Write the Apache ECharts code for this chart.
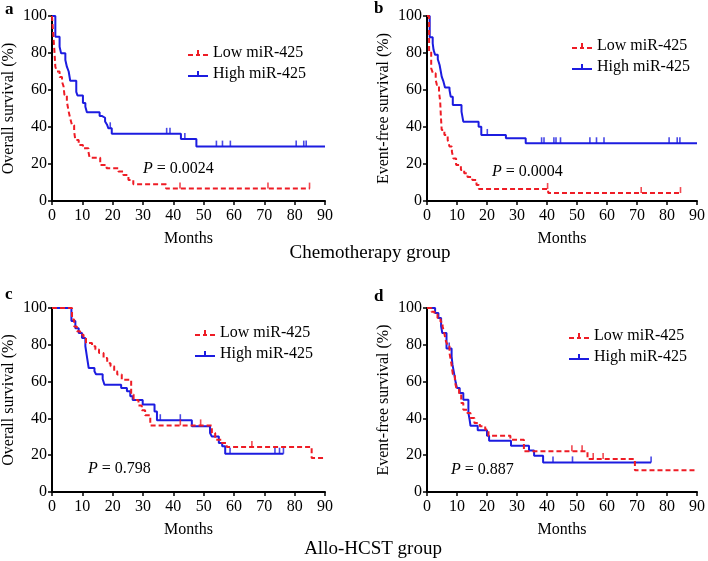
<!DOCTYPE html>
<html>
<head>
<meta charset="utf-8">
<script src="https://cdn.jsdelivr.net/npm/echarts@6/dist/echarts.min.js"></script>
<style>html,body{margin:0;padding:0;background:#fff}#c{width:708px;height:561px}</style>
</head>
<body>
<div id="c"></div>
<script>
// ---- data (months, survival %) ----
const seriesNames = ['Low miR-425', 'High miR-425'];
const panelLetters = ['a', 'b', 'c', 'd'];
const yTitles = ['Overall survival (%)', 'Event-free survival (%)', 'Overall survival (%)', 'Event-free survival (%)'];
const xTitle = 'Months';
const groupTitles = ['Chemotherapy group', 'Allo-HCST group'];
const pValues = ['0.0024', '0.0004', '0.798', '0.887'];

// Panel a: chemotherapy, overall survival
const lowA = [[0,100],[0.5,88],[0.8,81],[1.1,72.6],[1.6,70],[2.5,67],[3.3,64.5],[3.8,62],[4.1,57.3],[4.9,53.7],[5.5,48.3],[6,44.7],[6.6,41],[7.3,37.5],[7.7,33],[8.8,30.3],[10.2,28.5],[12,26.7],[12.4,23.4],[15.9,19.5],[18,17.7],[21.9,16],[23.5,14],[25.2,11.4],[26.8,9],[37.6,6.7],[85,6.7]];
const lowACens = [[42.2,6.7],[71.2,6.7],[84.9,6.7]];
const highA = [[0,100],[1.1,88.8],[2.5,83.4],[3,79.8],[4.4,76.2],[4.9,72.6],[5.5,70],[6,65],[8,59],[8.4,57],[10.2,53],[11,51],[11.5,48],[15.7,46],[16.4,45],[17.5,43],[18.1,41.4],[18.6,39.3],[19.7,36.3],[42.5,33.5],[47.6,29.4],[90,29.4]];
const highACens = [[19.2,39.3],[37.8,36.3],[38.9,36.3],[43.8,33.5],[54.2,29.4],[56.2,29.4],[58.8,29.4],[80.5,29.4],[83,29.4],[83.8,29.4]];

// Panel b: chemotherapy, event-free survival
const lowB = [[0,100],[0.7,80.7],[1.4,71.7],[2,69],[2.9,65.4],[3.3,62.7],[4,59],[4.4,53.7],[4.6,46.5],[4.9,38.4],[5.8,35.7],[6.9,33],[7.5,29.4],[8.3,26.7],[8.8,23],[9.7,19.5],[11.3,16.8],[12.4,15],[13.5,13],[15.1,11.4],[16.5,8.6],[17.3,6.5],[40.4,4.3],[84.5,4.3]];
const lowBCens = [[40.2,6.5],[71.4,4.3],[84.5,4.3]];
const highB = [[0,100],[0.9,88.5],[1.9,85.2],[2.2,81.6],[2.7,79],[3.6,76.6],[4.2,73.5],[4.6,70],[4.9,67.2],[5.5,64.5],[6,61.4],[7.5,60],[7.9,56.4],[8.6,51.9],[11.5,48.3],[12.1,42.9],[17.2,40.2],[18.1,35.7],[26.3,33.9],[32.9,31.2],[90,31.2]];
const highBCens = [[20.1,35.7],[38.2,31.2],[39,31.2],[42.3,31.2],[43,31.2],[44.5,31.2],[54.3,31.2],[56.5,31.2],[59,31.2],[80.7,31.2],[83.4,31.2],[84.3,31.2]];

// Panel c: allo-HCST, overall survival
const lowC = [[0,100],[6.6,93.7],[7.3,90],[8.2,87.3],[9.3,85.5],[10.4,83.7],[11.2,81],[13.2,79.2],[14.3,77.4],[15.5,75.5],[17,72.8],[18.2,70],[19.3,68.3],[20.5,65.6],[21.5,63.8],[23,61],[26.1,53],[26.9,50],[28.5,47],[29.6,44.4],[30.7,41.7],[32.4,36.2],[52.7,32],[53.8,28.4],[56,26.6],[57.6,24.5],[85.6,18.5],[90,18.5]];
const lowCCens = [[42.3,36.2],[49,36.2],[65.9,24.5]];
const highC = [[0,100],[6.4,93],[7.7,89],[8.8,86.4],[9.9,83.7],[11,79.2],[11.5,73.7],[12.1,67.4],[14,65.6],[14.5,64],[16.7,61.4],[17.3,58.3],[22.8,56.5],[24.7,54.7],[25.8,52],[26.6,50],[29.9,47.5],[33.8,43.8],[34.6,39],[46.1,35.7],[52.1,32],[52.7,30.2],[55,26.6],[56.1,24.8],[57.1,20.8],[76.3,20.8]];
const highCCens = [[35.7,39],[42.3,39],[58.7,20.8],[73.5,20.8],[75,20.8],[76.3,20.8]];

// Panel d: allo-HCST, event-free survival
const lowD = [[0,100],[1.5,98],[2.5,96.5],[3.5,94.5],[4.5,92.5],[5.2,90],[5.8,86],[6.3,82],[6.8,80],[7.5,75.5],[8.1,70],[8.6,64],[9.3,60],[9.9,55.6],[10.7,53],[11.4,48.4],[12.1,44.7],[13.4,42.9],[14.5,40.2],[15.8,37.5],[17.6,35.7],[19.4,33.9],[20.5,30.6],[27.8,28.4],[32.3,22.1],[53.5,17.9],[69.3,11.8],[90,11.8]];
const lowDCens = [[48.3,22.1],[51.7,22.1],[55.4,17.9],[58.7,17.9]];
const highD = [[0,100],[2.7,97.3],[3.8,94.6],[4.7,90],[5.1,86.4],[6.5,78],[8.2,73.7],[8.5,69.2],[9.1,63.8],[9.6,59.2],[10,56.5],[10.9,53.8],[12.1,50.2],[13.8,43],[14.2,39.3],[14.5,36],[16.9,33.5],[20,30.6],[20.7,27.9],[28,25.2],[34,22.6],[35.7,19.7],[38.7,16.1],[74.7,16.1]];
const highDCens = [[7.4,78],[42,16.1],[48.5,16.1],[74.7,16.1]];

const lowCurves = [lowA, lowB, lowC, lowD];
const lowCens = [lowACens, lowBCens, lowCCens, lowDCens];
const highCurves = [highA, highB, highC, highD];
const highCens = [highACens, highBCens, highCCens, highDCens];

// ---- layout / style ----
const FONT = 'Liberation Serif';
const RED = '#ee1c25';
const BLUE = '#1c1ce0';
const grids = [
  {left: 52, top: 16, width: 273, height: 185},
  {left: 427, top: 16, width: 274, height: 185},
  {left: 52, top: 308, width: 273, height: 184},
  {left: 427, top: 308, width: 274, height: 184}
];
const legendPos = [{left: 183, top: 40}, {left: 567, top: 33}, {left: 190, top: 320}, {left: 564, top: 323}];
const pPos = [[143, 161], [492, 164], [88, 461], [451, 462]];
const letterPos = [[5, 1], [374, 0], [5, 286], [374, 288]];

const lowIcon = 'path://M0,5h5v2h-5z M8,5h4v2h-4z M9,1h2v5h-2z M15,5h5v2h-5z';
const highIcon = 'path://M0,5h20v2h-20z M9,1h2v5h-2z';

const axisLine = {show: true, lineStyle: {color: '#000', width: 2}};
const axisTick = {show: true, inside: false, length: 4, lineStyle: {color: '#000', width: 1.5}};

const xAxes = grids.map((g, i) => ({
  type: 'value', gridIndex: i, min: 0, max: 90, interval: 10,
  axisLine, axisTick, splitLine: {show: false},
  axisLabel: {color: '#000', fontFamily: FONT, fontSize: 16, margin: 7},
  name: xTitle, nameLocation: 'middle', nameGap: 30,
  nameTextStyle: {color: '#000', fontFamily: FONT, fontSize: 16}
}));
const yAxes = grids.map((g, i) => ({
  type: 'value', gridIndex: i, min: 0, max: 100, interval: 20,
  axisLine, axisTick, splitLine: {show: false},
  axisLabel: {color: '#000', fontFamily: FONT, fontSize: 16, margin: 5},
  name: yTitles[i], nameLocation: 'middle', nameGap: 35, nameRotate: 90,
  nameTextStyle: {color: '#000', fontFamily: FONT, fontSize: 16}
}));

const series = [];
for (let i = 0; i < 4; i++) {
  series.push({
    name: seriesNames[0], type: 'line', step: 'end', xAxisIndex: i, yAxisIndex: i,
    data: lowCurves[i], showSymbol: false, symbol: 'none', z: 3,
    itemStyle: {color: RED},
    lineStyle: {color: RED, width: 2, type: [5, 3]}
  });
  series.push({
    name: seriesNames[1], type: 'line', step: 'end', xAxisIndex: i, yAxisIndex: i,
    data: highCurves[i], showSymbol: false, symbol: 'none', z: 2,
    itemStyle: {color: BLUE},
    lineStyle: {color: BLUE, width: 2}
  });
  series.push({
    name: 'low-censored', type: 'scatter', xAxisIndex: i, yAxisIndex: i,
    data: lowCens[i], symbol: 'rect', symbolSize: [1.6, 6], symbolOffset: [0, -3],
    itemStyle: {color: RED}, silent: true, z: 3
  });
  series.push({
    name: 'high-censored', type: 'scatter', xAxisIndex: i, yAxisIndex: i,
    data: highCens[i], symbol: 'rect', symbolSize: [1.6, 6], symbolOffset: [0, -3],
    itemStyle: {color: BLUE}, silent: true, z: 2
  });
}

const legends = legendPos.map(p => ({
  left: p.left, top: p.top, orient: 'vertical', itemGap: 5,
  itemWidth: 20, itemHeight: 7,
  textStyle: {color: '#000', fontFamily: FONT, fontSize: 16},
  data: [
    {name: seriesNames[0], icon: lowIcon, itemStyle: {color: RED}},
    {name: seriesNames[1], icon: highIcon, itemStyle: {color: BLUE}}
  ],
  selectedMode: false
}));

const graphics = [];
for (let i = 0; i < 4; i++) {
  graphics.push({
    type: 'text', x: pPos[i][0], y: pPos[i][1],
    style: {
      text: '{i|P} = ' + pValues[i],
      fontFamily: FONT, fontSize: 16, fill: '#000',
      rich: {i: {fontStyle: 'italic', fontFamily: FONT, fontSize: 16, fill: '#000'}}
    }
  });
  graphics.push({
    type: 'text', x: letterPos[i][0], y: letterPos[i][1],
    style: {text: panelLetters[i], fontFamily: FONT, fontSize: 17, fontWeight: 'bold', fill: '#000'}
  });
}
graphics.push({
  type: 'text', x: 370, y: 253,
  style: {text: groupTitles[0], fontFamily: FONT, fontSize: 19, fill: '#000', align: 'center', verticalAlign: 'middle'}
});
graphics.push({
  type: 'text', x: 373, y: 549,
  style: {text: groupTitles[1], fontFamily: FONT, fontSize: 19, fill: '#000', align: 'center', verticalAlign: 'middle'}
});

const chart = echarts.init(document.getElementById('c'), null, {renderer: 'canvas'});
chart.setOption({
  animation: false,
  backgroundColor: '#fff',
  grid: grids,
  xAxis: xAxes,
  yAxis: yAxes,
  legend: legends,
  series,
  graphic: graphics
});
</script>
</body>
</html>
